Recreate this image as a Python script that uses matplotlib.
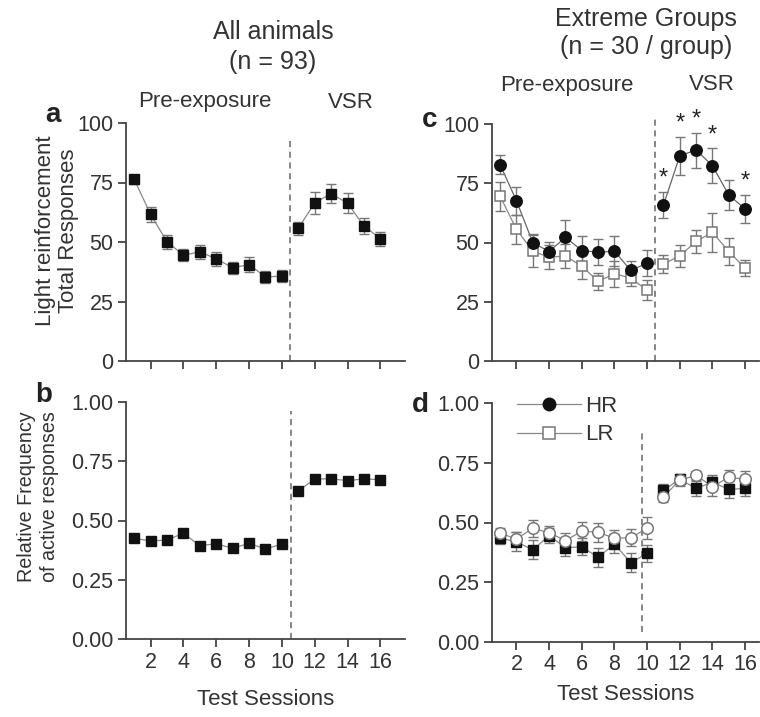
import matplotlib
matplotlib.use("Agg")
import matplotlib.pyplot as plt
from matplotlib.lines import Line2D

plt.rcParams['font.family'] = ['Liberation Sans', 'DejaVu Sans']
plt.rcParams['text.color'] = '#333333'
plt.rcParams['axes.labelcolor'] = '#333333'
plt.rcParams['xtick.color'] = '#444444'
plt.rcParams['ytick.color'] = '#444444'
plt.rcParams['xtick.labelcolor'] = '#333333'
plt.rcParams['ytick.labelcolor'] = '#333333'

# sessions
sessions = list(range(1, 17))
xticks = [2, 4, 6, 8, 10, 12, 14, 16]

# panel a: all animals, total responses
all_resp = [76.3, 61.6, 50.1, 44.4, 45.9, 42.9, 39.2, 40.5, 35.3, 35.7,
            55.7, 66.5, 70.3, 66.3, 56.7, 51.4]
all_resp_err = [2.0, 3.0, 3.0, 2.5, 3.0, 3.0, 2.5, 3.0, 2.5, 2.5,
                2.8, 4.6, 3.9, 4.2, 3.2, 3.0]

# panel b: all animals, relative frequency of active responses
all_freq = [0.425, 0.414, 0.418, 0.446, 0.394, 0.402, 0.383, 0.404, 0.380, 0.401,
            0.624, 0.675, 0.675, 0.668, 0.675, 0.672]

# panel c: extreme groups, total responses
hr_resp = [82.8, 67.6, 49.9, 46.2, 52.2, 46.6, 45.9, 46.3, 38.2, 41.3,
           65.8, 86.6, 89.0, 82.4, 70.0, 64.2]
hr_resp_err = [4.0, 6.0, 3.8, 3.9, 7.4, 6.0, 5.6, 6.3, 4.2, 5.6,
               5.6, 8.0, 7.4, 7.3, 6.3, 5.9]
lr_resp = [69.5, 55.5, 46.3, 43.8, 44.3, 40.0, 33.6, 36.8, 35.0, 29.8,
           41.0, 44.3, 50.5, 54.3, 46.2, 39.2]
lr_resp_err = [6.2, 6.2, 6.7, 5.0, 5.0, 5.5, 3.6, 5.5, 3.5, 4.2,
               3.8, 4.8, 4.9, 8.1, 5.6, 3.5]
signif = [11, 12, 13, 14, 16]

# panel d: extreme groups, relative frequency
d_sq = [0.434, 0.419, 0.385, 0.445, 0.394, 0.398, 0.354, 0.410, 0.331, 0.371,
        0.636, 0.681, 0.643, 0.669, 0.639, 0.643]
d_sq_err = [0.025, 0.040, 0.040, 0.030, 0.035, 0.035, 0.040, 0.040, 0.040, 0.035,
            0.025, 0.020, 0.030, 0.030, 0.035, 0.030]
d_ci = [0.455, 0.431, 0.476, 0.457, 0.424, 0.464, 0.459, 0.434, 0.436, 0.476,
        0.608, 0.678, 0.698, 0.650, 0.690, 0.681]
d_ci_err = [0.020, 0.030, 0.035, 0.030, 0.030, 0.040, 0.040, 0.035, 0.035, 0.045,
            0.020, 0.025, 0.020, 0.040, 0.030, 0.035]

W, H = 760, 717
fig = plt.figure(figsize=(W / 100, H / 100), dpi=100)


def px_axes(x0, y_top, x1, y_bot):
    return fig.add_axes([x0 / W, 1 - y_bot / H, (x1 - x0) / W, (y_bot - y_top) / H])


def style(ax, xmax, ymax, yticks, fmt):
    ax.set_xlim(0.5, xmax)
    ax.set_ylim(0, ymax)
    for s in ['top', 'right']:
        ax.spines[s].set_visible(False)
    for s in ['left', 'bottom']:
        ax.spines[s].set_color('#444444')
        ax.spines[s].set_linewidth(1.3)
    ax.set_xticks(xticks)
    ax.set_yticks(yticks)
    ax.set_yticklabels([fmt.format(v) for v in yticks])
    ax.tick_params(direction='out', length=6, width=1.3, labelsize=15.5, pad=3)


line_kw = dict(color='#888888', lw=0.9, zorder=1)
err_kw = dict(ecolor='#777777', elinewidth=1.0, capsize=3.5, capthick=1.0, zorder=2)

# ---- panel a
ax_a = px_axes(126, 123, 405, 361)
ax_a.plot(sessions[:10], all_resp[:10], **line_kw)
ax_a.plot(sessions[10:], all_resp[10:], **line_kw)
ax_a.errorbar(sessions, all_resp, yerr=all_resp_err, fmt='none', **err_kw)
ax_a.plot(sessions, all_resp, 's', color='#111111', ms=7.2, ls='none', zorder=3)
ax_a.plot([10.5, 10.5], [0, 94], color='#666666', lw=1.1, ls=(0, (4, 3)), zorder=0)
style(ax_a, 17.5, 100, [0, 25, 50, 75, 100], '{:.0f}')
ax_a.set_xticklabels([])

# ---- panel b
ax_b = px_axes(126, 401.7, 405, 639.3)
ax_b.plot(sessions[:10], all_freq[:10], **line_kw)
ax_b.plot(sessions[10:], all_freq[10:], **line_kw)
ax_b.plot(sessions, all_freq, 's', color='#111111', ms=7.2, ls='none', zorder=3)
ax_b.plot([10.55, 10.55], [0, 0.96], color='#666666', lw=1.1, ls=(0, (4, 3)), zorder=0)
style(ax_b, 17.5, 1.0, [0, 0.25, 0.5, 0.75, 1.0], '{:.2f}')
ax_b.set_xlabel('Test Sessions', fontsize=16, labelpad=12)

# ---- panel c
ax_c = px_axes(492, 124, 759, 361)
ax_c.plot(sessions[:10], lr_resp[:10], **line_kw)
ax_c.plot(sessions[10:], lr_resp[10:], **line_kw)
ax_c.plot(sessions[:10], hr_resp[:10], color='#666666', lw=0.9, zorder=1)
ax_c.plot(sessions[10:], hr_resp[10:], color='#666666', lw=0.9, zorder=1)
ax_c.errorbar(sessions, lr_resp, yerr=lr_resp_err, fmt='none', **err_kw)
ax_c.errorbar(sessions, hr_resp, yerr=hr_resp_err, fmt='none', **err_kw)
ax_c.plot(sessions, lr_resp, 's', mfc='white', mec='#777777', mew=1.1, ms=6.8,
          ls='none', zorder=3)
ax_c.plot(sessions, hr_resp, 'o', color='#111111', ms=8.3, ls='none', zorder=4)
for s in signif:
    i = sessions.index(s)
    ax_c.text(s, hr_resp[i] + hr_resp_err[i] + 1.0, '*', ha='center', va='bottom',
              fontsize=17, color='#222222')
ax_c.plot([10.5, 10.5], [0, 102.5], color='#666666', lw=1.1, ls=(0, (4, 3)),
          zorder=0, clip_on=False)
style(ax_c, 16.85, 100, [0, 25, 50, 75, 100], '{:.0f}')
ax_c.set_xticklabels([])

# ---- panel d
ax_d = px_axes(492, 403.3, 759, 641.7)
ax_d.plot(sessions[:10], d_sq[:10], **line_kw)
ax_d.plot(sessions[10:], d_sq[10:], **line_kw)
ax_d.plot(sessions[:10], d_ci[:10], **line_kw)
ax_d.plot(sessions[10:], d_ci[10:], **line_kw)
ax_d.errorbar(sessions, d_sq, yerr=d_sq_err, fmt='none', **err_kw)
ax_d.errorbar(sessions, d_ci, yerr=d_ci_err, fmt='none', **err_kw)
ax_d.plot(sessions, d_sq, 's', color='#111111', ms=7.2, ls='none', zorder=3)
ax_d.plot(sessions, d_ci, 'o', mfc='white', mec='#777777', mew=1.1, ms=8.3,
          ls='none', zorder=4)
ax_d.plot([9.7, 9.7], [0.04, 0.875], color='#666666', lw=1.1, ls=(0, (4, 3)), zorder=0)
style(ax_d, 16.85, 1.0, [0, 0.25, 0.5, 0.75, 1.0], '{:.2f}')
ax_d.set_xlabel('Test Sessions', fontsize=16, labelpad=6)

handles = [
    Line2D([], [], color='#888888', lw=0.9, marker='o', mfc='#111111', mec='#111111', ms=9),
    Line2D([], [], color='#888888', lw=0.9, marker='s', mfc='white', mec='#777777', mew=1.1, ms=8),
]
ax_d.legend(handles, ['HR', 'LR'], loc='upper left', bbox_to_anchor=(0.06, 1.07),
            frameon=False, fontsize=16, handlelength=2.9, handletextpad=0.15,
            labelspacing=0.35, borderaxespad=0)

# ---- labels and titles
fig.text(57 / W, 1 - 231 / H, 'Light reinforcement\nTotal Responses', rotation=90,
         ha='center', va='center', fontsize=16, multialignment='center', linespacing=1.1)
fig.text(38 / W, 1 - 497 / H, 'Relative Frequency\nof active responses', rotation=90,
         ha='center', va='center', fontsize=14.2, multialignment='center', linespacing=1.25)

fig.text(273 / W, 1 - 32 / H, 'All animals', ha='center', va='center', fontsize=18)
fig.text(273 / W, 1 - 62 / H, '(n = 93)', ha='center', va='center', fontsize=18)
fig.text(646 / W, 1 - 19 / H, 'Extreme Groups', ha='center', va='center', fontsize=18)
fig.text(646 / W, 1 - 47 / H, '(n = 30 / group)', ha='center', va='center', fontsize=18)

fig.text(205 / W, 1 - 102 / H, 'Pre-exposure', ha='center', va='center', fontsize=16)
fig.text(351 / W, 1 - 102 / H, 'VSR', ha='center', va='center', fontsize=16)
fig.text(567 / W, 1 - 85 / H, 'Pre-exposure', ha='center', va='center', fontsize=16)
fig.text(712 / W, 1 - 85 / H, 'VSR', ha='center', va='center', fontsize=16)

for letter, x, y in [('a', 53, 122), ('b', 44, 402), ('c', 430, 127), ('d', 420, 412)]:
    fig.text(x / W, 1 - y / H, letter, ha='center', va='baseline', fontsize=20,
             fontweight='bold', color='#222222')

fig.savefig('out.png', dpi=100)
